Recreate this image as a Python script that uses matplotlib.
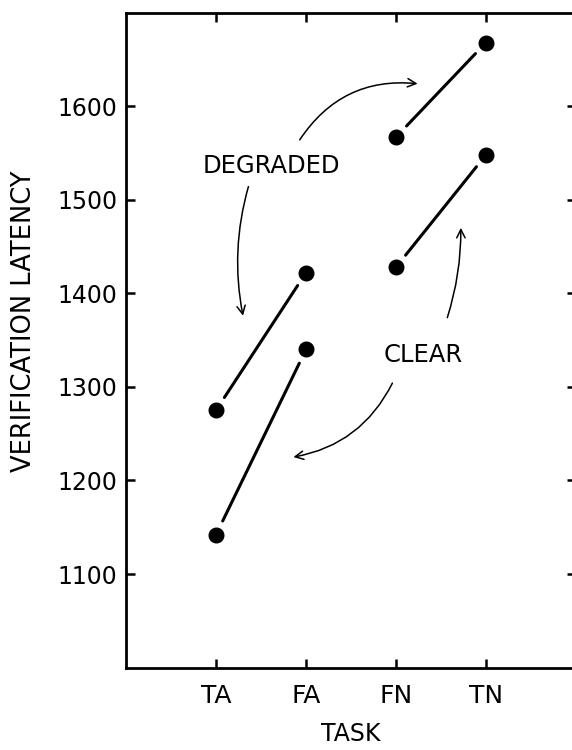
import numpy as np
import matplotlib
matplotlib.use('Agg')
import matplotlib.pyplot as plt

tasks = ['TA', 'FA', 'FN', 'TN']
degraded = [1275, 1422, 1567, 1668]
clear = [1142, 1340, 1428, 1548]
yticks = [1100, 1200, 1300, 1400, 1500, 1600]

plt.rcParams['font.family'] = 'DejaVu Sans'

fig = plt.figure(figsize=(5.72, 7.5), dpi=100)
ax = fig.add_axes([0.2203, 0.1099, 0.7867, 0.8733])

x = np.arange(len(tasks))

# dots, then the short connecting segments (they stop short of the dots)
for series in (degraded, clear):
    ax.plot(x, series, 'o', color='black', markersize=10.5, ls='none')
    for i, j in [(0, 1), (2, 3)]:
        ax.annotate('', xy=(x[j], series[j]), xytext=(x[i], series[i]),
                    arrowprops=dict(arrowstyle='-', lw=2.2, color='black',
                                    shrinkA=11, shrinkB=11))

ax.text(0.61, 1536, 'DEGRADED', fontsize=17.5, ha='center', va='center')
ax.text(2.30, 1334, 'CLEAR', fontsize=17.5, ha='center', va='center')

arrow = dict(arrowstyle='->,head_length=0.6,head_width=0.3', lw=1.1,
             color='black', shrinkA=0, shrinkB=0)
ax.annotate('', xy=(2.24, 1624), xytext=(0.93, 1564),
            arrowprops=dict(arrow, connectionstyle='arc3,rad=-0.3'))
ax.annotate('', xy=(0.30, 1376), xytext=(0.36, 1514),
            arrowprops=dict(arrow, connectionstyle='arc3,rad=0.12'))
ax.annotate('', xy=(2.72, 1470), xytext=(2.57, 1374),
            arrowprops=dict(arrow, connectionstyle='arc3,rad=0.08'))
ax.annotate('', xy=(0.86, 1225), xytext=(1.96, 1304),
            arrowprops=dict(arrow, connectionstyle='arc3,rad=-0.25'))

ax.set_xlim(-1, 4)
ax.set_ylim(1000, 1700)
ax.set_xticks(x)
ax.set_xticklabels(tasks, fontsize=18)
ax.set_yticks(yticks)
ax.set_yticklabels([str(v) for v in yticks], fontsize=17)
ax.tick_params(direction='in', top=True, right=True, length=6.5, width=1.8)
ax.tick_params(axis='x', pad=12)
ax.tick_params(axis='y', pad=6)
for s in ax.spines.values():
    s.set_linewidth(2)
# right edge of the frame is cut off in the original, only the ticks show
ax.spines['right'].set_visible(False)

ax.set_xlabel('TASK', fontsize=17, labelpad=10)
fig.text(24 / 572, 1 - 321 / 750, 'VERIFICATION LATENCY', rotation=90,
         fontsize=18.5, ha='center', va='center')

plt.savefig('out.png', dpi=100)
